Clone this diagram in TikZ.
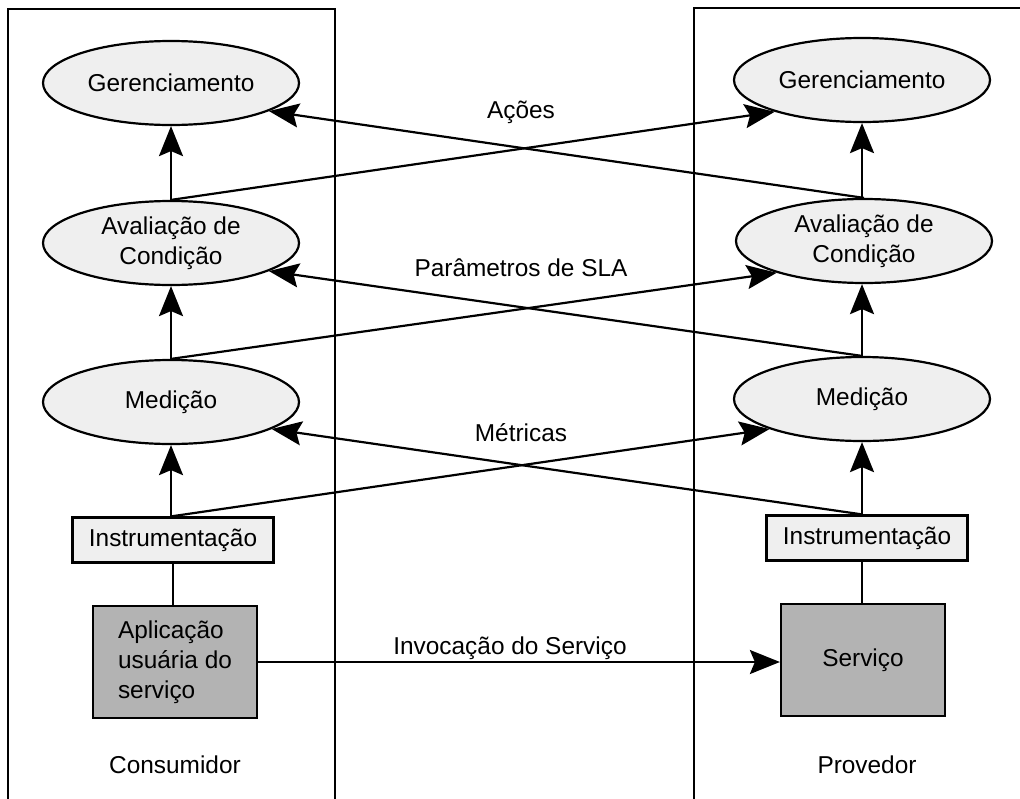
\documentclass[tikz,border=0pt]{standalone}
\usepackage{fontspec}
\setmainfont{Liberation Sans}
\usetikzlibrary{arrows.meta,shapes.geometric}
\definecolor{lightfill}{HTML}{EFEFEF}
\definecolor{darkfill}{HTML}{B3B3B3}
\begin{document}
\begin{tikzpicture}[x=1pt,y=-1pt,
  line width=2.2pt,
  every node/.style={font=\fontsize{24.4}{30}\selectfont, inner sep=0pt},
  stage/.style={ellipse, draw, fill=lightfill, minimum width=256pt, minimum height=84pt, align=center},
  instbox/.style={rectangle, draw, fill=lightfill, minimum width=201pt, minimum height=45pt},
  appbox/.style={rectangle, draw, fill=darkfill, minimum width=164pt, minimum height=112pt},
  arr/.style={-{Stealth[length=30pt,width=24pt,inset=5pt]}},
  flowlabel/.style={fill=none}
]
\useasboundingbox (0,0) rectangle (1020,798);

% panel borders
\draw (8,800) -- (8,9) -- (335,9) -- (335,800);
\draw (694,800) -- (694,8) -- (1022,8);

% consumer column
\node[stage] (lger) at (171,83) {Gerenciamento};
\node[stage] (lav)  at (171,243) {Avaliação de\\Condição};
\node[stage] (lmed) at (171,402) {Medição};
\node[instbox] (linst) at (173,540) {Instrumentação};
\node[appbox, align=left] (lapp) at (175,662) {Aplicação\\usuária do\\serviço};
\node (lcap) at (175,765) {Consumidor};

% provider column
\node[stage] (rger) at (862,80) {Gerenciamento};
\node[stage] (rav)  at (864,241) {Avaliação de\\Condição};
\node[stage] (rmed) at (862,399) {Medição};
\node[instbox] (rinst) at (867,538) {Instrumentação};
\node[appbox] (rserv) at (863,660) {Serviço};
\node (rcap) at (867,765) {Provedor};

% vertical flow inside each column
\draw[arr] (lav.north) -- (lger.south);
\draw[arr] (lmed.north) -- (lav.south);
\draw[arr] (lmed.south |- linst.north) -- (lmed.south);
\draw (linst.south) -- (linst.south |- lapp.north);

\draw[arr] (rav.north -| rger.south) -- (rger.south);
\draw[arr] (rmed.north) -- (rav.south -| rmed.north);
\draw[arr] (rmed.south |- rinst.north) -- (rmed.south);
\draw (rmed.south |- rinst.south) -- (rmed.south |- rserv.north);

% exchanges between the columns
\draw[arr] (lav.north) -- (rger.200);
\draw[arr] (rav.north) -- (lger.344);
\draw[arr] (lmed.north) -- (rav.200);
\draw[arr] (rmed.north) -- (lav.344);
\draw[arr] (lmed.south |- linst.north) -- (rmed.198);
\draw[arr] (rmed.south |- rinst.north) -- (lmed.345);
\draw[arr] (lapp.east) -- (rserv.west |- lapp.east);

% exchange labels
\node[flowlabel] (lbact) at (521,112) {Ações};
\node[flowlabel] (lbsla) at (521,268) {Parâmetros de SLA};
\node[flowlabel] (lbmet) at (521,433) {Métricas};
\node[flowlabel] (lbinv) at (510,648) {Invocação do Serviço};
\end{tikzpicture}
\end{document}
